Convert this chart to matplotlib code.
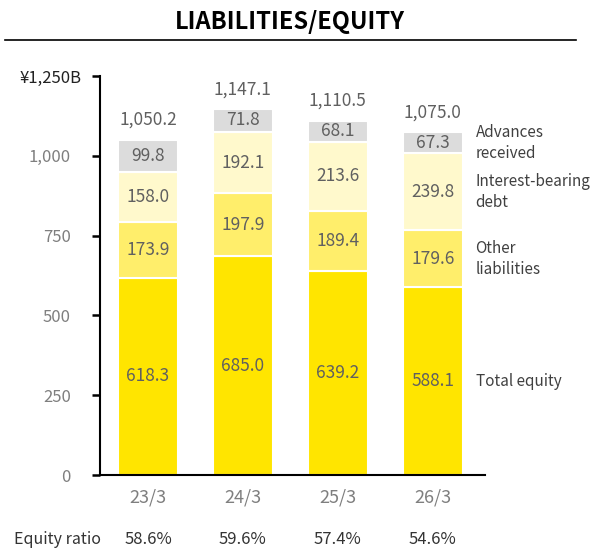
import numpy as np
import matplotlib
matplotlib.use("Agg")
import matplotlib.pyplot as plt
import matplotlib.transforms as mtransforms
from matplotlib.lines import Line2D

plt.rcParams['font.family'] = ['Noto Sans CJK JP', 'DejaVu Sans']

categories = ["23/3", "24/3", "25/3", "26/3"]
total_equity = [618.3, 685.0, 639.2, 588.1]
other_liabilities = [173.9, 197.9, 189.4, 179.6]
interest_debt = [158.0, 192.1, 213.6, 239.8]
advances = [99.8, 71.8, 68.1, 67.3]
totals = [1050.2, 1147.1, 1110.5, 1075.0]
equity_ratio = ["58.6%", "59.6%", "57.4%", "54.6%"]
series_names = ["Total equity", "Other\nliabilities", "Interest-bearing\ndebt", "Advances\nreceived"]
yticks = [0, 250, 500, 750, 1000, 1250]
ytick_labels = ["0", "250", "500", "750", "1,000", "¥1,250B"]

colors = ["#FFE500", "#FFEE6B", "#FFF9CC", "#DCDCDC"]
label_color = "#606060"

fig = plt.figure(figsize=(5.94, 5.5), dpi=100)
ax = fig.add_axes([100/594, 1 - 475/550, 385/594, 399/550])

x = np.arange(len(categories))
series = [total_equity, other_liabilities, interest_debt, advances]
bottom = np.zeros(len(categories))
for vals, col in zip(series, colors):
    vals = np.array(vals)
    ax.bar(x, vals, bottom=bottom, width=0.63, color=col,
           edgecolor="white", linewidth=1.5, zorder=2)
    for xi, b, v in zip(x, bottom, vals):
        ax.text(xi, b + v / 2, "{:.1f}".format(v), ha="center", va="center",
                fontsize=12.5, color=label_color, zorder=3)
    bottom = bottom + vals

# totals above bars
for xi, b, t in zip(x, bottom, totals):
    ax.text(xi, b + 62, "{:,.1f}".format(t), ha="center", va="center",
            fontsize=12.5, color=label_color)

# series labels at right of last bar
bottom = 0
for vals, name in zip(series, series_names):
    ax.text(3.45, bottom + vals[-1] / 2, name, ha="left", va="center",
            fontsize=11, color="#404040", linespacing=1.3, clip_on=False)
    bottom += vals[-1]

ax.set_xlim(-0.505, 3.55)
ax.set_ylim(0, 1250)
ax.set_yticks(yticks)
ax.set_yticklabels(ytick_labels, fontsize=12, color="#7F7F7F")
ax.set_xticks(x)
ax.set_xticklabels(categories, fontsize=13, color="#7F7F7F")
ax.tick_params(axis="x", length=0, pad=10)
ax.tick_params(axis="y", length=6, width=1.8, color="black", pad=15)
for s in ["top", "right"]:
    ax.spines[s].set_visible(False)
for s in ["left", "bottom"]:
    ax.spines[s].set_linewidth(1.5)
    ax.spines[s].set_color("black")

# top tick label sits closer to the axis and is darker
top_lbl = ax.get_yticklabels()[-1]
top_lbl.set_color("#222222")
top_lbl.set_transform(top_lbl.get_transform() +
                      mtransforms.ScaledTranslation(11/100, 0, fig.dpi_scale_trans))

# equity ratio row
fig.text(58/594, 1 - 540/550, "Equity ratio", ha="center", va="center",
         fontsize=11.5, color="#333333")
for xi, r in zip(x, equity_ratio):
    xd = ax.transData.transform((xi, 0))[0]
    fig.text(xd / 594, 1 - 540/550, r, ha="center", va="center",
             fontsize=12, color="#333333")

# title and rule
fig.text(290/594, 1 - 22/550, "LIABILITIES/EQUITY", ha="center", va="center",
         fontsize=17, fontweight="bold", color="black")
fig.add_artist(Line2D([5/594, 576/594], [1 - 40/550, 1 - 40/550],
                      color="black", linewidth=1.2))

fig.savefig("out.png", dpi=100)
